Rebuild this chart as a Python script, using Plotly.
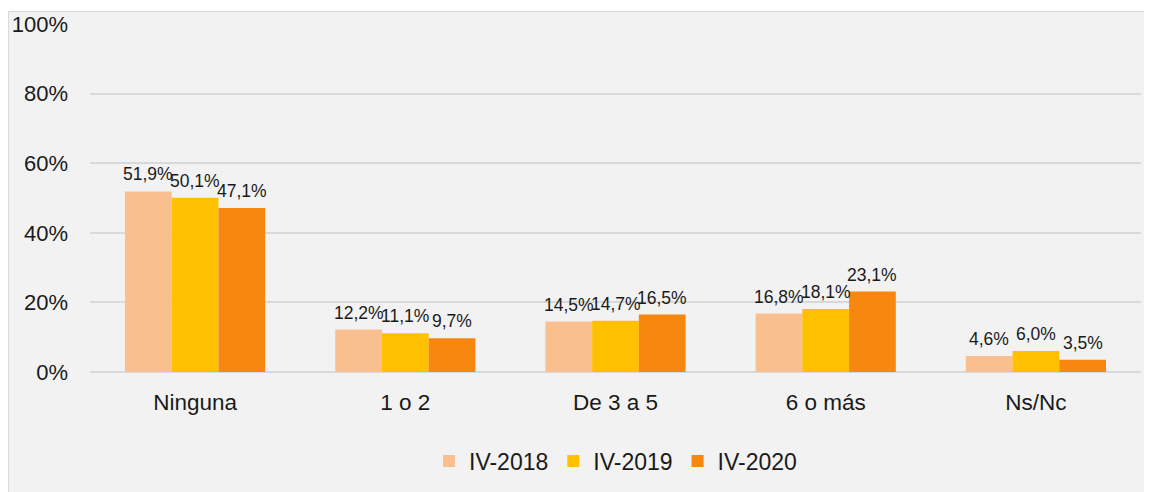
import plotly.graph_objects as go

categories = ["Ninguna", "1 o 2", "De 3 a 5", "6 o más", "Ns/Nc"]
series_names = ["IV-2018", "IV-2019", "IV-2020"]
v2018 = [51.9, 12.2, 14.5, 16.8, 4.6]
v2019 = [50.1, 11.1, 14.7, 18.1, 6.0]
v2020 = [47.1, 9.7, 16.5, 23.1, 3.5]
colors = ["#F9BF8F", "#FFC000", "#F7870F"]
y_ticks = [0, 20, 40, 60, 80, 100]
y_tick_labels = ["0%", "20%", "40%", "60%", "80%", "100%"]

FONT = "Arial, Liberation Sans, sans-serif"
TXT = "#1a1a1a"

# page is rendered with an 8px body margin
W, H = 1144, 484
ml, mr, mt, mb = 82, 11, 16, 120
pw, ph = W - ml - mr, H - mt - mb
BARGAP = 0.333
bar_px = pw / len(categories) * (1 - BARGAP) / len(series_names)

def px_x(p):
    return (p - ml) / pw

def px_y(p):
    return (H - mb - p) / ph

fig = go.Figure()
annotations = []
all_vals = [v2018, v2019, v2020]
for i, (name, vals, col) in enumerate(zip(series_names, all_vals, colors)):
    fig.add_trace(go.Bar(
        x=categories, y=vals, name=name,
        marker=dict(color=col, line=dict(width=0)),
    ))
    for c, v in zip(categories, vals):
        annotations.append(dict(
            x=c, y=v, xref="x", yref="y", showarrow=False,
            text=f"{v:.1f}%".replace(".", ","),
            xanchor="center", yanchor="bottom",
            xshift=(i - 1) * bar_px, yshift=5,
            font=dict(family=FONT, size=17.5, color=TXT),
        ))

fig.update_layout(
    width=W, height=H,
    margin=dict(l=ml, r=mr, t=mt, b=mb, pad=0, autoexpand=False),
    paper_bgcolor="white",
    plot_bgcolor="rgba(0,0,0,0)",
    separators=",.",
    barmode="group", bargap=BARGAP, bargroupgap=0,
    font=dict(family=FONT, size=22, color=TXT),
    showlegend=True,
    legend=dict(orientation="h", x=0.5, xanchor="center", y=px_y(453), yanchor="middle",
                font=dict(family=FONT, size=23, color=TXT),
                bgcolor="rgba(0,0,0,0)", itemwidth=30, traceorder="normal"),
    annotations=annotations,
    shapes=[dict(type="rect", xref="paper", yref="paper", layer="below",
                 x0=px_x(0.5), x1=px_x(W + 10), y0=px_y(H + 10), y1=px_y(3.5),
                 fillcolor="#F2F2F2", line=dict(color="#D9D9D9", width=1))],
    xaxis=dict(showgrid=False, showline=False, ticks="", ticklabelstandoff=14,
               automargin=False,
               tickfont=dict(family=FONT, size=22.5, color=TXT)),
    yaxis=dict(range=[0, 100], tickvals=y_ticks, ticktext=y_tick_labels,
               showgrid=True, gridcolor="#D9D9D9", gridwidth=1.5,
               zeroline=True, zerolinecolor="#D9D9D9", zerolinewidth=1.5,
               showline=False, ticks="", ticklabelstandoff=21, automargin=False,
               tickfont=dict(family=FONT, size=22, color=TXT)),
)

fig.write_html("out.html")
